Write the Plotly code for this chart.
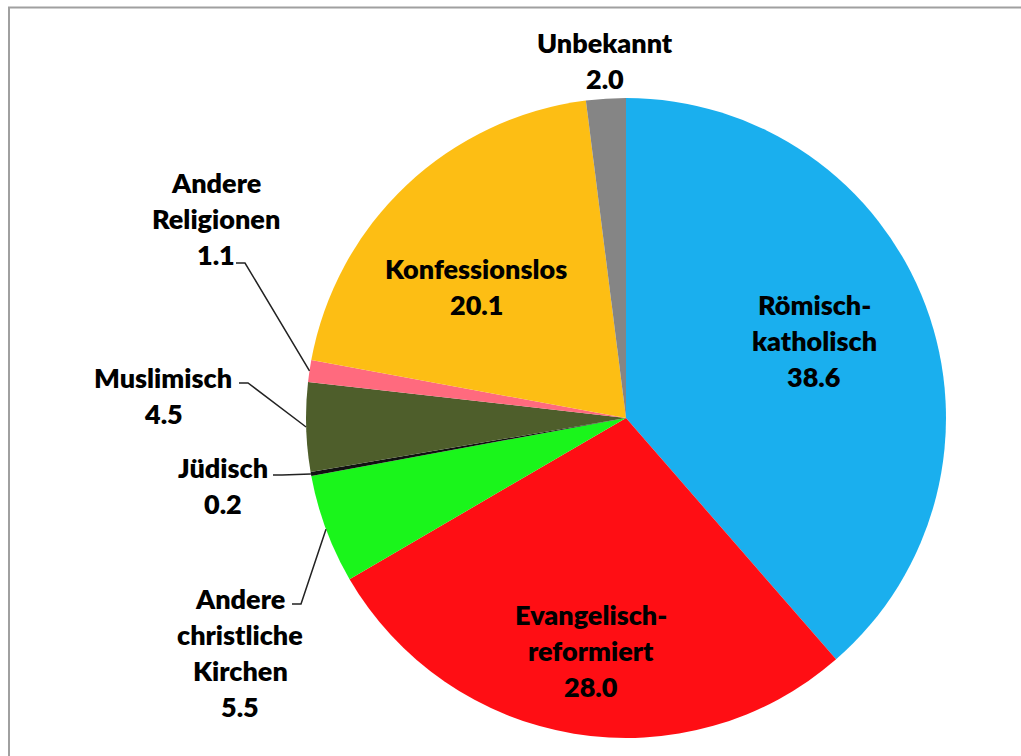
import math
import plotly.graph_objects as go

# ---- data ----
categories = ["Römisch-katholisch", "Evangelisch-reformiert", "Andere christliche Kirchen",
              "Jüdisch", "Muslimisch", "Andere Religionen", "Konfessionslos", "Unbekannt"]
values = [38.6, 28.0, 5.5, 0.2, 4.5, 1.1, 20.1, 2.0]
label_lines = [["Römisch-", "katholisch"], ["Evangelisch-", "reformiert"],
               ["Andere", "christliche", "Kirchen"], ["Jüdisch"], ["Muslimisch"],
               ["Andere", "Religionen"], ["Konfessionslos"], ["Unbekannt"]]

# ---- style / layout ----
colors = ["#1AAFEE", "#FF0E14", "#1AF51B", "#111111", "#4E5E2B", "#FF6A7E", "#FDBE14", "#858585"]
W, H = 1021, 756
CX, CY, R = 626, 418, 320
# label block centers (pixels)
label_pos = {
    "Römisch-katholisch": (814, 340),
    "Evangelisch-reformiert": (591, 650),
    "Andere christliche Kirchen": (240, 652),
    "Jüdisch": (223, 485),
    "Muslimisch": (163, 395),
    "Andere Religionen": (216, 218),
    "Konfessionslos": (476, 286),
    "Unbekannt": (605, 60),
}
leader_start = {  # where leader line leaves the label
    "Andere Religionen": (236, 263),
    "Muslimisch": (239, 383),
    "Jüdisch": (273, 475),
    "Andere christliche Kirchen": (292, 604),
}
LINE_SP = 36
FONT = dict(family="Lato, 'Open Sans', sans-serif", size=27, color="black", weight=800)

fig = go.Figure()
fig.add_trace(go.Pie(
    labels=categories, values=values, sort=False, direction="clockwise", rotation=0,
    marker=dict(colors=colors, line=dict(width=0)), textinfo="none", hoverinfo="label+value",
    domain=dict(x=[(CX - R) / W, (CX + R) / W], y=[1 - (CY + R) / H, 1 - (CY - R) / H]),
    showlegend=False,
))

total = sum(values)
cum = 0.0
annotations = []
shapes = []
for cat, val, lines in zip(categories, values, label_lines):
    mid = (cum + val / 2) / total * 2 * math.pi
    cum += val
    ex, ey = CX + R * math.sin(mid), CY - R * math.cos(mid)
    all_lines = lines + [f"{val:.1f}"]
    bx, by = label_pos[cat]
    n = len(all_lines)
    for i, t in enumerate(all_lines):
        annotations.append(dict(x=bx, y=by + (i - (n - 1) / 2) * LINE_SP, xref="x", yref="y",
                                text=t, showarrow=False, font=FONT,
                                xanchor="center", yanchor="middle"))
    if cat in leader_start:
        sx, sy = leader_start[cat]
        kx = sx + 9 if ex > sx + 9 else sx
        shapes.append(dict(type="path", xref="x", yref="y",
                           path=f"M {sx},{sy} L {kx},{sy} L {ex:.1f},{ey:.1f}",
                           line=dict(color="#222222", width=1.5)))

# frame (left/top visible, right/bottom beyond the picture)
shapes.append(dict(type="rect", xref="x", yref="y", x0=9, y0=7.5, x1=W + 30, y1=H + 30,
                   line=dict(color="#A0A0A0", width=2), layer="below"))

fig.update_layout(
    width=W, height=H, margin=dict(l=0, r=0, t=0, b=0),
    paper_bgcolor="white", plot_bgcolor="rgba(0,0,0,0)",
    xaxis=dict(range=[0, W], visible=False, fixedrange=True),
    yaxis=dict(range=[H, 0], visible=False, fixedrange=True),
    annotations=annotations, shapes=shapes,
)
fig.write_html("out.html", config={"displayModeBar": False},
               post_script="document.body.style.margin='0';document.body.style.overflow='hidden';")
